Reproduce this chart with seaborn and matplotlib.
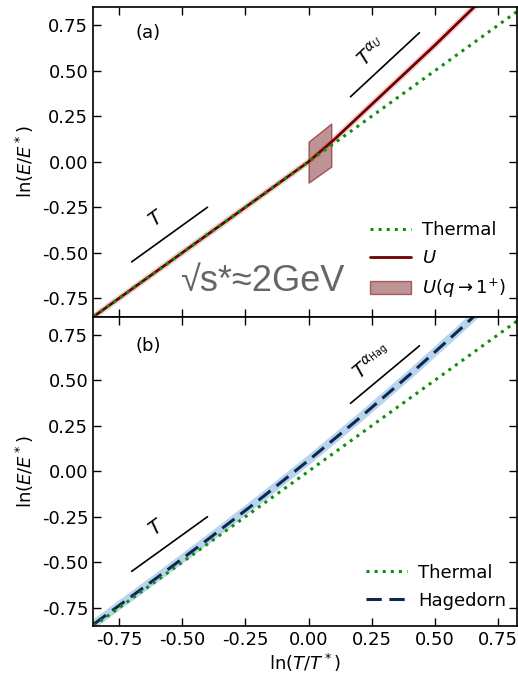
import numpy as np
import pandas as pd
import matplotlib
matplotlib.use("Agg")
import matplotlib.pyplot as plt
import seaborn as sns

# ---- data ----
thermal_x = [-0.85, 0.85]
thermal_y = [-0.85, 0.85]

u_x = [-0.85, 0.0, 0.1, 0.3, 0.5, 0.7, 0.85]
u_y = [-0.85, 0.0, 0.12, 0.38, 0.64, 0.91, 1.10]

band_x = [0.0, 0.09]
band_lo = [-0.115, -0.027]
band_hi = [0.11, 0.21]

hag_x = [-0.85, -0.6, -0.4, -0.2, 0.0, 0.2, 0.4, 0.6, 0.8]
hag_y = [-0.84, -0.585, -0.376, -0.162, 0.06, 0.29, 0.53, 0.78, 1.04]

guide_T_x = [-0.70, -0.40]
guide_T_y = [-0.55, -0.25]
guide_U_x = [0.166, 0.439]
guide_U_y = [0.357, 0.709]
guide_H_x = [0.166, 0.439]
guide_H_y = [0.373, 0.689]

ticks = [-0.75, -0.50, -0.25, 0.00, 0.25, 0.50, 0.75]
tick_labels = ["-0.75", "-0.50", "-0.25", "0.00", "0.25", "0.50", "0.75"]

sns.set_style("ticks")
plt.rcParams['font.family'] = ['DejaVu Sans']
plt.rcParams['axes.unicode_minus'] = False
plt.rcParams['text.color'] = 'black'
plt.rcParams['axes.labelcolor'] = 'black'
plt.rcParams['xtick.color'] = 'black'
plt.rcParams['ytick.color'] = 'black'
plt.rcParams['axes.edgecolor'] = 'black'

fig = plt.figure(figsize=(5.18, 6.76), dpi=100)
L, R, B, T = 93/518, 517/518, 1 - 626/676, 1 - 7/676
H = (T - B) / 2
ax1 = fig.add_axes([L, B + H, R - L, H])
ax2 = fig.add_axes([L, B, R - L, H], sharex=ax1)

green = '#0f8f0f'
dred = '#6e0000'
navy = '#0c2850'
FS = 13

# panel a
sns.lineplot(x=u_x, y=u_y, ax=ax1, color='#e06060', lw=4.5, alpha=0.3, legend=False)
sns.lineplot(x=u_x, y=u_y, ax=ax1, color=dred, lw=2, label='$U$')
ax1.fill_between(band_x, band_lo, band_hi, facecolor='#8b3a3a', alpha=0.55,
                 edgecolor='#6e0000', lw=1, label=r'$U(q\rightarrow1^{+})$')
sns.lineplot(x=thermal_x, y=thermal_y, ax=ax1, color=green, lw=2.2, ls=':', label='Thermal')
ax1.plot(guide_T_x, guide_T_y, color='black', lw=1.2)
ax1.plot(guide_U_x, guide_U_y, color='black', lw=1.2)
ax1.text(-0.60, -0.31, '$T$', rotation=36, fontsize=14, ha='center', va='center')
ax1.text(0.25, 0.60, r'$T^{\alpha_U}$', rotation=43, fontsize=14, ha='center', va='center')
ax1.text(0.10, 0.915, '(a)', transform=ax1.transAxes, fontsize=FS, ha='left', va='center')
ax1.text(0.205, 0.082, '√s*≈2GeV', transform=ax1.transAxes, fontsize=26, color='#666666',
         ha='left', va='baseline', family=['Liberation Sans', 'DejaVu Sans'])
h, l = ax1.get_legend_handles_labels()
order = [l.index('Thermal'), l.index('$U$'), l.index(r'$U(q\rightarrow1^{+})$')]
ax1.legend([h[i] for i in order], [l[i] for i in order], loc='lower right',
           bbox_to_anchor=(1.0, 0.018), frameon=False, fontsize=FS, handlelength=2.3,
           labelspacing=0.55, handletextpad=0.6, borderaxespad=0.2)

# panel b
sns.lineplot(x=hag_x, y=hag_y, ax=ax2, color='#a8cbea', lw=6, alpha=0.8, legend=False)
sns.lineplot(x=hag_x, y=hag_y, ax=ax2, color=navy, lw=2.2, ls=(0, (5, 2.5)), label='Hagedorn')
sns.lineplot(x=thermal_x, y=thermal_y, ax=ax2, color=green, lw=2.2, ls=':', label='Thermal')
ax2.plot(guide_T_x, guide_T_y, color='black', lw=1.2)
ax2.plot(guide_H_x, guide_H_y, color='black', lw=1.2)
ax2.text(-0.60, -0.31, '$T$', rotation=36, fontsize=14, ha='center', va='center')
ax2.text(0.25, 0.60, r'$T^{\alpha_{\rm Hag}}$', rotation=40, fontsize=14, ha='center', va='center')
ax2.text(0.10, 0.906, '(b)', transform=ax2.transAxes, fontsize=FS, ha='left', va='center')
h, l = ax2.get_legend_handles_labels()
order = [l.index('Thermal'), l.index('Hagedorn')]
ax2.legend([h[i] for i in order], [l[i] for i in order], loc='lower right',
           bbox_to_anchor=(1.0, 0.018), frameon=False, fontsize=FS, handlelength=2.3,
           labelspacing=0.55, handletextpad=0.6, borderaxespad=0.2)

for ax in (ax1, ax2):
    ax.set_xlim(-0.853, 0.825)
    ax.set_ylim(-0.85, 0.85)
    ax.set_xticks(ticks)
    ax.set_yticks(ticks)
    ax.set_yticklabels(tick_labels)
    ax.tick_params(direction='in', top=True, right=True, labelsize=FS, length=6, width=1,
                   colors='black')
    ax.set_ylabel('ln($E/E^*$)', fontsize=FS, labelpad=4)
    for s in ax.spines.values():
        s.set_visible(True)
        s.set_linewidth(1.2)
        s.set_color('black')
ax2.set_xticklabels(tick_labels)
ax1.tick_params(labelbottom=False)
ax2.set_xlabel('ln($T/T^*$)', fontsize=FS, labelpad=2)

fig.savefig('out.png', dpi=100)
